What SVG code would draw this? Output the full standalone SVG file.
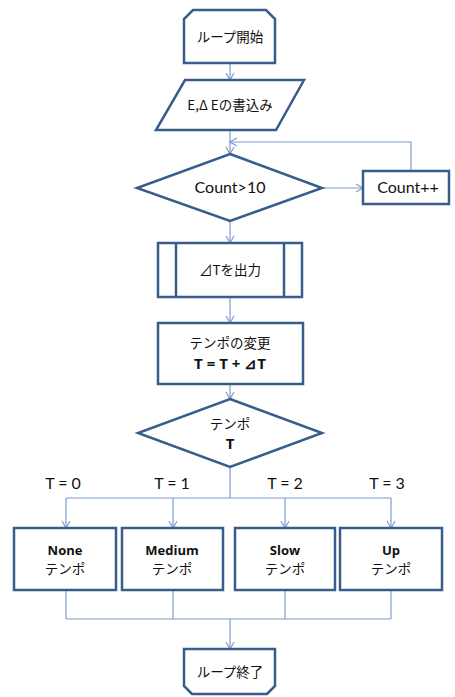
<svg xmlns="http://www.w3.org/2000/svg" width="455" height="697" viewBox="0 0 455 697">
<defs>
<style>
.s{fill:#fff;stroke:#385D8A;stroke-width:2.5;stroke-linejoin:miter}
.c{fill:none;stroke:#7E9CCB;stroke-width:1.2}
.t{font-family:"Noto Sans CJK JP","Noto Sans",sans-serif;font-size:13.5px;fill:#111;text-anchor:middle}
.l{font-family:Lato,"Open Sans","Noto Sans CJK JP",sans-serif;font-size:16px;fill:#111;text-anchor:middle}
.b{font-family:"Open Sans",Lato,sans-serif;font-size:13px;font-weight:bold;fill:#111;text-anchor:middle}
.b14{font-size:15px}
</style>
<marker id="a" markerWidth="10" markerHeight="10" refX="8" refY="5" orient="auto" markerUnits="userSpaceOnUse">
<polyline points="1,1 8,5 1,9" fill="none" stroke="#7E9CCB" stroke-width="1.2"/>
</marker>
</defs>
<rect width="455" height="697" fill="#fff"/>
<g id="connectors">
<line class="c" x1="230" y1="64" x2="230" y2="80" marker-end="url(#a)"/>
<line class="c" x1="230" y1="130" x2="230" y2="154" marker-end="url(#a)"/>
<line class="c" x1="322" y1="188" x2="363" y2="188" marker-end="url(#a)"/>
<polyline class="c" points="411,171 411,142 230,142" marker-end="url(#a)"/>
<line class="c" x1="230" y1="221" x2="230" y2="243" marker-end="url(#a)"/>
<line class="c" x1="230" y1="297" x2="230" y2="323" marker-end="url(#a)"/>
<line class="c" x1="230" y1="384" x2="230" y2="399" marker-end="url(#a)"/>
<polyline class="c" points="230,467 230,498"/>
<line class="c" x1="66" y1="498" x2="391" y2="498"/>
<line class="c" x1="66" y1="498" x2="66" y2="528" marker-end="url(#a)"/>
<line class="c" x1="173" y1="498" x2="173" y2="528" marker-end="url(#a)"/>
<line class="c" x1="285" y1="498" x2="285" y2="528" marker-end="url(#a)"/>
<line class="c" x1="391" y1="498" x2="391" y2="528" marker-end="url(#a)"/>
<line class="c" x1="66" y1="590" x2="66" y2="619"/>
<line class="c" x1="173" y1="590" x2="173" y2="619"/>
<line class="c" x1="285" y1="590" x2="285" y2="619"/>
<line class="c" x1="391" y1="590" x2="391" y2="619"/>
<line class="c" x1="66" y1="619" x2="391" y2="619"/>
<line class="c" x1="230" y1="619" x2="230" y2="649" marker-end="url(#a)"/>
</g>
<g id="loop-start">
<polygon class="s" points="193,10 266,10 275,19 275,63 184,63 184,19"/>
<text class="t" x="230" y="42">ループ開始</text>
</g>
<g id="input-e">
<polygon class="s" points="185,80 304,80 276,130 156,130"/>
<text class="t" x="230" y="110">E,Δ Eの書込み</text>
</g>
<g id="decision-count">
<polygon class="s" points="230,154 322,188 230,221 137,188"/>
<text class="l" x="230" y="193">Count&gt;10</text>
</g>
<g id="count-inc">
<rect class="s" x="363" y="171" width="86" height="33"/>
<text class="l" x="408" y="193">Count++</text>
</g>
<g id="output-dt">
<rect class="s" x="158" y="243" width="144" height="54"/>
<line class="s" x1="176" y1="243" x2="176" y2="297"/>
<line class="s" x1="284" y1="243" x2="284" y2="297"/>
<text class="t" x="230" y="275">⊿Tを出力</text>
</g>
<g id="tempo-change">
<rect class="s" x="158" y="323" width="145" height="61"/>
<text class="t" x="230" y="348">テンポの変更</text>
<text class="b b14" x="230" y="369">T = T +  ⊿T</text>
</g>
<g id="decision-tempo">
<polygon class="s" points="230,399 322,433 230,467 138,433"/>
<text class="t" x="230" y="429">テンポ</text>
<text class="b b14" x="230" y="449">T</text>
</g>
<g id="labels">
<text class="l" x="63" y="489">T = 0</text>
<text class="l" x="172" y="489">T = 1</text>
<text class="l" x="285" y="489">T = 2</text>
<text class="l" x="387" y="489">T = 3</text>
</g>
<g id="none">
<rect class="s" x="14" y="528" width="102" height="62"/>
<text class="b" x="65" y="555">None</text>
<text class="t" x="65" y="574">テンポ</text>
</g>
<g id="medium">
<rect class="s" x="122" y="528" width="101" height="62"/>
<text class="b" x="172" y="555">Medium</text>
<text class="t" x="172" y="574">テンポ</text>
</g>
<g id="slow">
<rect class="s" x="235" y="528" width="100" height="62"/>
<text class="b" x="285" y="555">Slow</text>
<text class="t" x="285" y="574">テンポ</text>
</g>
<g id="up">
<rect class="s" x="340" y="528" width="102" height="62"/>
<text class="b" x="391" y="555">Up</text>
<text class="t" x="391" y="574">テンポ</text>
</g>
<g id="loop-end">
<polygon class="s" points="184,649 275,649 275,686 267,694 192,694 184,686"/>
<text class="t" x="230" y="677">ループ終了</text>
</g>
</svg>
